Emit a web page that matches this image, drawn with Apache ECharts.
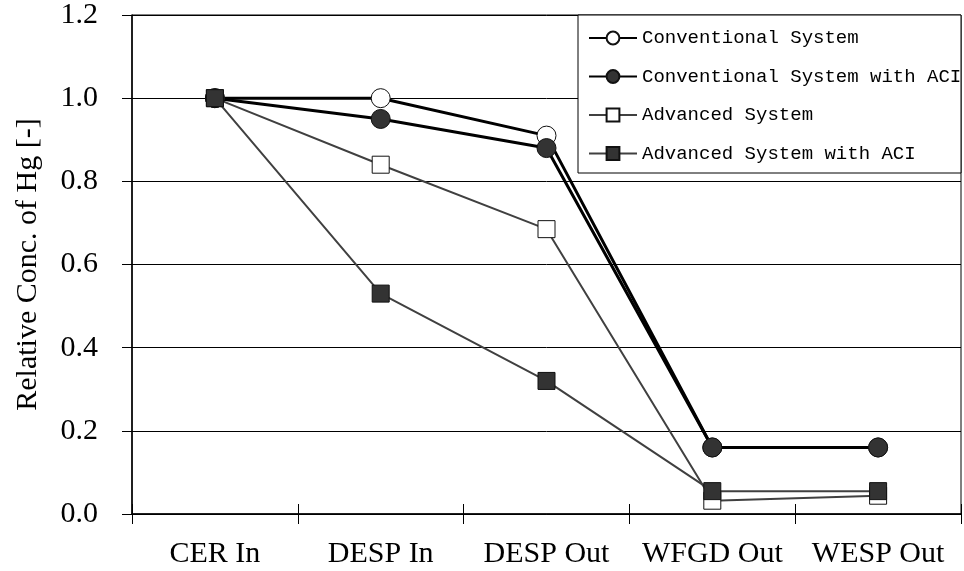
<!DOCTYPE html>
<html>
<head>
<meta charset="utf-8">
<script src="https://cdn.jsdelivr.net/npm/echarts@6/dist/echarts.min.js"></script>
<style>
html,body{margin:0;padding:0;background:#fff;}
#chart{width:964px;height:571px;}
</style>
</head>
<body>
<div id="chart"></div>
<script>
var categories = ['CER In', 'DESP In', 'DESP Out', 'WFGD Out', 'WESP Out'];
var seriesNames = ['Conventional System', 'Conventional System with ACI', 'Advanced System', 'Advanced System with ACI'];
var conventional = [1.0, 1.0, 0.91, 0.16, 0.16];
var conventionalACI = [1.0, 0.95, 0.88, 0.16, 0.16];
var advanced = [1.0, 0.84, 0.685, 0.032, 0.044];
var advancedACI = [1.0, 0.53, 0.32, 0.055, 0.055];
var yTicks = [0, 0.2, 0.4, 0.6, 0.8, 1.0, 1.2];

var chart = echarts.init(document.getElementById('chart'));
var serif = 'Liberation Serif';
var mono = 'Liberation Mono';

function mk(name, data, symbol, fill, lineColor, lineWidth, size) {
  return {
    name: name, type: 'line', data: data,
    symbol: symbol, symbolSize: size,
    z: 2,
    lineStyle: {color: lineColor, width: lineWidth},
    itemStyle: {color: fill, borderColor: '#111', borderWidth: 1, opacity: 1},
    emphasis: {disabled: true},
    animation: false
  };
}

var option = {
  animation: false,
  backgroundColor: '#fff',
  grid: {left: 132, top: 15, right: 3, bottom: 57, containLabel: false, outerBoundsMode: 'none',
         show: true, borderColor: '#000', borderWidth: 1, backgroundColor: 'transparent'},
  graphic: [{
    type: 'rect', z: 3,
    shape: {x: 578, y: 15, width: 383, height: 158},
    style: {fill: '#fff', stroke: '#000', lineWidth: 1}
  }],
  legend: {
    orient: 'vertical', left: 583, top: 23.5, z: 5,
    itemWidth: 48, itemHeight: 16, itemGap: 19.5, itemTextGap: 3,
    textStyle: {fontFamily: mono, fontSize: 19, color: '#000', lineHeight: 19},
    data: seriesNames
  },
  xAxis: [{
    type: 'category', data: categories, boundaryGap: true,
    axisLine: {show: true, lineStyle: {color: '#000', width: 1.5}},
    axisTick: {show: true, inside: false, length: 10, alignWithLabel: false, lineStyle: {color: '#000', width: 1}},
    axisLabel: {fontFamily: serif, fontSize: 30, color: '#000', margin: 25, lineHeight: 30, interval: 0},
    splitLine: {show: false}
  }, {
    type: 'category', data: categories, boundaryGap: true, position: 'bottom', offset: 0,
    axisLine: {show: false},
    axisTick: {show: true, inside: true, length: 10, lineStyle: {color: '#000', width: 1}},
    axisLabel: {show: false},
    splitLine: {show: false}
  }],
  yAxis: {
    type: 'value', min: yTicks[0], max: yTicks[yTicks.length - 1], interval: 0.2,
    name: 'Relative Conc. of Hg [-]', nameLocation: 'middle', nameGap: 89,
    nameTextStyle: {fontFamily: serif, fontSize: 30, color: '#000'},
    axisLine: {show: true, lineStyle: {color: '#000', width: 1.5}},
    axisTick: {show: true, inside: false, length: 10, lineStyle: {color: '#000', width: 1}},
    axisLabel: {fontFamily: serif, fontSize: 30, color: '#000', margin: 34, formatter: function (v) { return v.toFixed(1); }},
    splitLine: {show: true, lineStyle: {color: '#000', width: 1}}
  },
  series: [
    mk(seriesNames[0], conventional, 'circle', '#fff', '#000', 3, 19),
    mk(seriesNames[1], conventionalACI, 'circle', '#333', '#000', 3, 19),
    mk(seriesNames[2], advanced, 'rect', '#fff', '#404040', 2, 17),
    mk(seriesNames[3], advancedACI, 'rect', '#333', '#404040', 2, 17)
  ]
};
chart.setOption(option);
</script>
</body>
</html>
